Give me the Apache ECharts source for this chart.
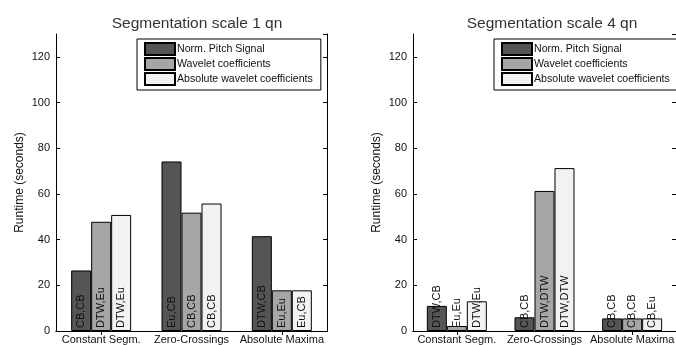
<!DOCTYPE html>
<html>
<head>
<meta charset="utf-8">
<script src="https://cdn.jsdelivr.net/npm/echarts@6/dist/echarts.min.js"></script>
<style>html,body{margin:0;padding:0;background:#fff}#c{width:676px;height:345px}</style>
</head>
<body>
<div id="c"></div>
<script>
var categories = ['Constant Segm.', 'Zero-Crossings', 'Absolute Maxima'];
var seriesNames = ['Norm. Pitch Signal', 'Wavelet coefficients', 'Absolute wavelet coefficients'];
var titles = ['Segmentation scale 1 qn', 'Segmentation scale 4 qn'];
var yTicks = [0, 20, 40, 60, 80, 100, 120];

var scale1Norm = [26.5, 74.2, 41.5];
var scale1Wav  = [47.8, 51.8, 17.8];
var scale1Abs  = [50.8, 55.8, 17.8];
var scale4Norm = [11.0, 6.0, 5.5];
var scale4Wav  = [2.2, 61.3, 5.5];
var scale4Abs  = [13.0, 71.3, 5.5];

var scale1NormLbl = ['CB,CB', 'Eu,CB', 'DTW,CB'];
var scale1WavLbl  = ['DTW,Eu', 'CB,CB', 'Eu,Eu'];
var scale1AbsLbl  = ['DTW,Eu', 'CB,CB', 'Eu,CB'];
var scale4NormLbl = ['DTW,CB', 'CB,CB', 'CB,CB'];
var scale4WavLbl  = ['Eu,Eu', 'DTW,DTW', 'CB,CB'];
var scale4AbsLbl  = ['DTW,Eu', 'DTW,DTW', 'CB,Eu'];

var colors = ['#555555', '#a6a6a6', '#f2f2f2'];
var FONT = 'Liberation Sans, Arial, sans-serif';

var chart = echarts.init(document.getElementById('c'), null, {renderer: 'canvas'});

var grids = [
  {left: 56, top: 34, width: 271, height: 300},
  {left: 413, top: 34, width: 271, height: 300}
];

var xAxes = [], yAxes = [];
for (var g = 0; g < 2; g++) {
  xAxes.push({
    type: 'category', gridIndex: g, data: categories, position: 'bottom',
    axisLine: {show: true, lineStyle: {color: '#000', width: 1}},
    axisTick: {show: true, inside: true, alignWithLabel: true, length: 4, lineStyle: {color: '#000'}},
    axisLabel: {color: '#111', fontSize: 11, fontFamily: FONT, margin: 3, interval: 0},
    splitLine: {show: false}
  });
  xAxes.push({
    type: 'category', gridIndex: g, data: categories, position: 'top',
    axisLine: {show: true, lineStyle: {color: '#000', width: 1}},
    axisTick: {show: true, inside: true, alignWithLabel: true, length: 4, lineStyle: {color: '#000'}},
    axisLabel: {show: false}, splitLine: {show: false}
  });
  yAxes.push({
    type: 'value', gridIndex: g, min: 0, max: 130, interval: 20, position: 'left',
    name: 'Runtime (seconds)', nameLocation: 'middle', nameGap: 30, nameRotate: 90,
    nameTextStyle: {color: '#111', fontSize: 12, fontFamily: FONT},
    axisLine: {show: true, lineStyle: {color: '#000', width: 1}},
    axisTick: {show: true, inside: true, length: 4, lineStyle: {color: '#000'}},
    axisLabel: {color: '#111', fontSize: 11, fontFamily: FONT, margin: 6, showMaxLabel: false,
      formatter: function (v) { return yTicks.indexOf(v) >= 0 ? String(v) : ''; }},
    splitLine: {show: false}
  });
  yAxes.push({
    type: 'value', gridIndex: g, min: 0, max: 130, interval: 20, position: 'right',
    axisLine: {show: true, lineStyle: {color: '#000', width: 1}},
    axisTick: {show: true, inside: true, length: 4, lineStyle: {color: '#000'}},
    axisLabel: {show: false}, splitLine: {show: false}
  });
}

function mkSeries(name, data, labels, color, panel) {
  return {
    type: 'bar', name: name,
    xAxisIndex: panel * 2, yAxisIndex: panel * 2,
    data: data, barWidth: 20, barGap: '0%',
    itemStyle: {color: color, borderColor: '#000', borderWidth: 1},
    label: {
      show: true, position: 'insideBottom', rotate: 90, align: 'left', verticalAlign: 'middle',
      distance: 3, fontSize: 11, fontFamily: FONT, color: '#111',
      formatter: function (p) { return labels[p.dataIndex]; }
    },
    emphasis: {disabled: true}, animation: false
  };
}

var series = [
  mkSeries(seriesNames[0], scale1Norm, scale1NormLbl, colors[0], 0),
  mkSeries(seriesNames[1], scale1Wav, scale1WavLbl, colors[1], 0),
  mkSeries(seriesNames[2], scale1Abs, scale1AbsLbl, colors[2], 0),
  mkSeries(seriesNames[0], scale4Norm, scale4NormLbl, colors[0], 1),
  mkSeries(seriesNames[1], scale4Wav, scale4WavLbl, colors[1], 1),
  mkSeries(seriesNames[2], scale4Abs, scale4AbsLbl, colors[2], 1)
];

function mkLegend(left) {
  return {
    left: left, top: 39, orient: 'vertical', icon: 'rect',
    itemWidth: 30, itemHeight: 12, itemGap: 1,
    padding: [3, 8, 4, 7],
    backgroundColor: '#fff', borderColor: '#000', borderWidth: 1,
    selectedMode: false,
    textStyle: {color: '#111', fontSize: 10.6, lineHeight: 12, fontFamily: FONT, padding: [0, 0, 0, -3]},
    data: seriesNames
  };
}

chart.setOption({
  animation: false,
  backgroundColor: '#fff',
  title: [
    {text: titles[0], left: 192, top: 11, textAlign: 'center',
     textStyle: {color: '#333', fontSize: 15.5, fontWeight: 'normal', fontFamily: FONT}},
    {text: titles[1], left: 547, top: 11, textAlign: 'center',
     textStyle: {color: '#333', fontSize: 15.5, fontWeight: 'normal', fontFamily: FONT}}
  ],
  legend: [mkLegend(137), mkLegend(494)],
  grid: grids,
  xAxis: xAxes,
  yAxis: yAxes,
  series: series
});
</script>
</body>
</html>
